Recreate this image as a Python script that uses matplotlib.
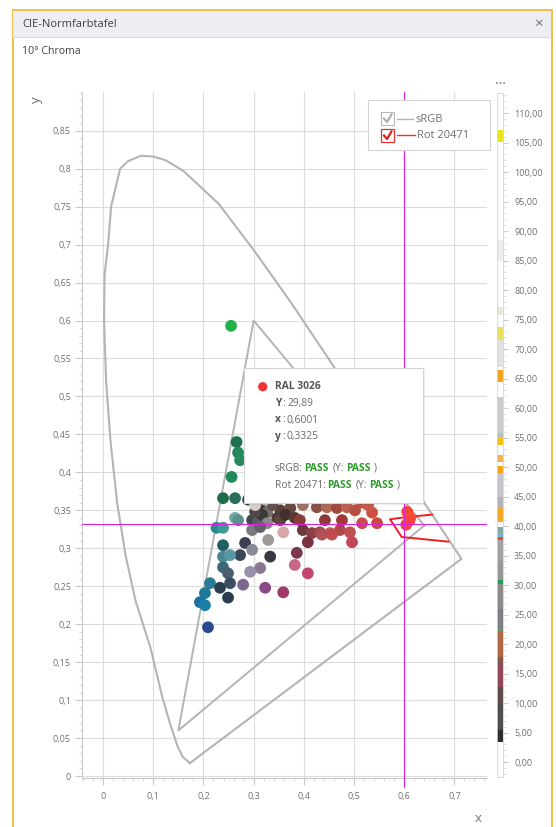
import numpy as np
import matplotlib.pyplot as plt
from matplotlib.patches import Rectangle, Circle
from matplotlib.ticker import FixedLocator, MultipleLocator, FuncFormatter

plt.rcParams['font.family'] = ['Open Sans', 'DejaVu Sans']

# spectral locus (CIE 10 deg)
locus_x = [0.173, 0.159, 0.149, 0.133, 0.118, 0.094, 0.065, 0.045, 0.028, 0.015, 0.006,
           0.002, 0.003, 0.010, 0.016, 0.034, 0.050, 0.075, 0.100, 0.125, 0.160, 0.230,
           0.300, 0.373, 0.444, 0.512, 0.575, 0.627, 0.666, 0.692, 0.714]
locus_y = [0.017, 0.025, 0.038, 0.070, 0.104, 0.170, 0.230, 0.290, 0.360, 0.440, 0.520,
           0.600, 0.660, 0.700, 0.750, 0.800, 0.810, 0.817, 0.816, 0.811, 0.797, 0.754,
           0.693, 0.625, 0.555, 0.487, 0.424, 0.373, 0.334, 0.308, 0.286]

# sRGB gamut
srgb_x = [0.64, 0.30, 0.15]
srgb_y = [0.33, 0.60, 0.06]

# tolerance outline "Rot 20471"
rot_x = [0.6554, 0.6056, 0.5717, 0.5950, 0.6879]
rot_y = [0.3443, 0.3412, 0.3382, 0.3149, 0.3087]

# selected sample RAL 3026
sel_x = 0.6001
sel_y = 0.3325

# samples
pt_x = [0.255, 0.266, 0.269, 0.273, 0.256, 0.239, 0.263, 0.289, 0.313, 0.327, 0.353, 0.373,
        0.398, 0.426, 0.446, 0.466, 0.486, 0.516, 0.536, 0.546, 0.263, 0.269, 0.297, 0.309,
        0.317, 0.327, 0.347, 0.353, 0.226, 0.239, 0.297, 0.313, 0.359, 0.398, 0.416, 0.432,
        0.452, 0.472, 0.492, 0.516, 0.239, 0.283, 0.297, 0.329, 0.408, 0.436, 0.456, 0.496,
        0.273, 0.239, 0.253, 0.333, 0.386, 0.239, 0.249, 0.313, 0.293, 0.382, 0.408, 0.253,
        0.279, 0.323, 0.359, 0.213, 0.233, 0.249, 0.203, 0.193, 0.203, 0.209, 0.606, 0.612,
        0.604, 0.610, 0.303, 0.337, 0.363, 0.382, 0.303, 0.323, 0.392, 0.442, 0.476, 0.502,
        0.528]
pt_y = [0.593, 0.440, 0.426, 0.416, 0.394, 0.366, 0.366, 0.364, 0.353, 0.347, 0.350, 0.353,
        0.357, 0.354, 0.354, 0.353, 0.354, 0.360, 0.347, 0.333, 0.340, 0.337, 0.337, 0.335,
        0.344, 0.333, 0.340, 0.337, 0.327, 0.327, 0.324, 0.328, 0.321, 0.324, 0.320, 0.321,
        0.320, 0.324, 0.321, 0.333, 0.304, 0.307, 0.298, 0.311, 0.308, 0.318, 0.318, 0.308,
        0.291, 0.289, 0.291, 0.289, 0.294, 0.275, 0.267, 0.274, 0.269, 0.278, 0.267, 0.254,
        0.252, 0.248, 0.242, 0.254, 0.248, 0.235, 0.241, 0.229, 0.225, 0.196, 0.348, 0.340,
        0.331, 0.336, 0.348, 0.357, 0.344, 0.340, 0.357, 0.364, 0.337, 0.337, 0.337, 0.350,
        0.357]
pt_col = ['#22b04b', '#1e6f4f', '#21875a', '#2a8a5e', '#1f8a55', '#1f6b4a', '#2b6e5e', '#2c3e3e',
          '#3d3a3a', '#7a6e68', '#5a4038', '#6a4a40', '#a07060', '#8a5048', '#b06a58', '#a04a40',
          '#c06050', '#c05040', '#d05040', '#c84a3e', '#70a8a8', '#5a9090', '#404850', '#5a5a60',
          '#3a3a3a', '#8a8888', '#4a3a38', '#5a4840', '#2a8a8a', '#3a9a9a', '#7a7a80', '#606068',
          '#d8a8a8', '#6a3a3a', '#8a4048', '#a04848', '#c05a58', '#b04848', '#c05050', '#c85048',
          '#206060', '#3a4050', '#8a8a98', '#a09898', '#7a3040', '#b05058', '#c04a50', '#c04858',
          '#3a4858', '#4a8898', '#5a98a8', '#3a3840', '#7a3850', '#3a6878', '#4a6070', '#8a7890',
          '#9a90a8', '#c86888', '#c04870', '#3a5060', '#7a6890', '#8a4a88', '#a03868', '#2a7a98',
          '#2a4050', '#2a3a50', '#207898', '#1a70a0', '#1a80a8', '#2a4a90', '#f04a2a', '#f05030',
          '#e84a3a', '#ff4040', '#504848', '#605050', '#403030', '#5a3a30', '#d8d0c8', '#c0b0a8',
          '#8a3a38', '#903a38', '#a03a38', '#b85040', '#c85848']

# brightness Y strip on the right
band_lo = [105.1, 85.0, 75.8, 71.5, 67.0, 64.4, 55.8, 55.0, 53.7, 50.8, 49.0, 45.0, 43.2, 40.7,
           38.8, 38.1, 37.6, 34.0, 30.8, 30.2, 26.0, 22.6, 22.2, 17.8, 16.8, 12.7, 10.0, 5.4, 3.4]
band_hi = [107.1, 88.5, 77.2, 73.7, 71.5, 66.4, 61.9, 55.8, 54.9, 52.0, 50.2, 49.0, 45.0, 43.2,
           39.8, 38.8, 38.1, 37.6, 34.0, 30.8, 30.2, 26.0, 22.6, 22.2, 17.8, 16.8, 12.7, 10.0, 5.4]
band_col = ['#e6e61a', '#eeeeee', '#e4eadc', '#e8e060', '#dfe2df', '#f2a41c', '#c9ccc8', '#bdbdbd',
            '#f2c21a', '#f2b450', '#f2a218', '#c4c4cc', '#b4b4b8', '#f2a62a', '#86a8a4', '#78b4d8',
            '#e05030', '#a2a2a2', '#989898', '#20a050', '#8c8c8c', '#808084', '#60a070', '#b06a48',
            '#805a50', '#904858', '#604a4a', '#4e4e4e', '#2e2e2e']

W, H = 556, 827
fig = plt.figure(figsize=(W / 100, H / 100), dpi=100)


def ax_px(l, t, r, b, **kw):
    return fig.add_axes([l / W, 1 - b / H, (r - l) / W, (b - t) / H], **kw)


# window frame
bg = fig.add_axes([0, 0, 1, 1], zorder=0)
bg.set_xlim(0, W)
bg.set_ylim(H, 0)
bg.axis('off')
bg.add_patch(Rectangle((12.5, 10), 539, 830, fc='white', ec='#f3b93f', lw=1.3))
bg.add_patch(Rectangle((13.2, 10.7), 537.6, 26, fc='#eceef1', ec='none'))
bg.plot([13.2, 550.8], [37, 37], color='#d6d8dc', lw=0.8)
bg.text(22, 24.5, 'CIE-Normfarbtafel', fontsize=8, color='#404040', va='center')
bg.text(538, 24.5, '\u00d7', fontsize=11, color='#707070', va='center', ha='center')
bg.text(22, 52, '10\u00b0 Chroma', fontsize=7.6, color='#404040', va='center')
bg.text(500, 81, '...', fontsize=10, color='#707070', va='center', ha='center')
bg.text(36, 100, 'y', fontsize=9.5, color='#707070', va='center', ha='center', rotation=90)
bg.text(478, 818, 'x', fontsize=9.5, color='#707070', va='center', ha='center')

# chart
ax = ax_px(82, 92, 487, 778, zorder=1)
ax.set_xlim(-0.042, 0.765)
ax.set_ylim(-0.0026, 0.901)
ax.patch.set_alpha(0)
for s in ['top', 'right']:
    ax.spines[s].set_visible(False)
for s in ['left', 'bottom']:
    ax.spines[s].set_color('#c8c8c8')
    ax.spines[s].set_linewidth(0.8)

ax.xaxis.set_major_locator(FixedLocator(np.round(np.arange(0, 0.71, 0.1), 2)))
ax.yaxis.set_major_locator(FixedLocator(np.round(np.arange(0, 0.86, 0.05), 2)))
ax.xaxis.set_minor_locator(MultipleLocator(0.02))
ax.yaxis.set_minor_locator(MultipleLocator(0.01))
comma = FuncFormatter(lambda v, p: ('%g' % round(v, 2)).replace('.', ','))
ax.xaxis.set_major_formatter(comma)
ax.yaxis.set_major_formatter(comma)
ax.tick_params(which='major', length=5, width=0.8, color='#c8c8c8', labelcolor='#707070',
               labelsize=6.5)
ax.tick_params(axis='x', which='major', pad=5)
ax.tick_params(axis='y', which='major', pad=3)
ax.tick_params(which='minor', length=2.5, width=0.6, color='#d0d0d0')
ax.grid(True, which='major', color='#dcdcdc', lw=0.8)
ax.set_axisbelow(True)

ax.plot(locus_x + [locus_x[0]], locus_y + [locus_y[0]], color='#b4b4b4', lw=1.5,
        solid_joinstyle='round', zorder=2)
ax.plot(srgb_x + [srgb_x[0]], srgb_y + [srgb_y[0]], color='#b4b4b4', lw=1.4, zorder=2)
ax.plot(rot_x, rot_y, color='#ee2020', lw=1.4, zorder=2.5)
ax.scatter(pt_x, pt_y, s=72, c=pt_col, edgecolors='none', zorder=3)
ax.axvline(sel_x, ymin=-0.013, ymax=1, color='#e020e0', lw=0.8, zorder=4, clip_on=False)
ax.axhline(sel_y, color='#e020e0', lw=0.8, zorder=4)

# Y strip
cax = ax_px(497, 93, 503, 777, zorder=1)
cax.set_xlim(0, 1)
cax.set_ylim(-2.54, 113.39)
cax.barh([(a + b) / 2 for a, b in zip(band_lo, band_hi)],
         1, height=[b - a for a, b in zip(band_lo, band_hi)], color=band_col, lw=0)
cax.set_xticks([])
cax.yaxis.tick_right()
cax.yaxis.set_major_locator(FixedLocator(np.arange(0, 111, 5)))
cax.yaxis.set_minor_locator(MultipleLocator(1))
cax.yaxis.set_major_formatter(FuncFormatter(lambda v, p: ('%.2f' % v).replace('.', ',')))
cax.tick_params(which='major', length=3.5, width=0.7, color='#c8c8c8', labelcolor='#707070',
                labelsize=6.5, pad=4.5)
cax.tick_params(which='minor', length=2, width=0.5, color='#d4d4d4')
for s in cax.spines.values():
    s.set_color('#d4d4d4')
    s.set_linewidth(0.6)

# legend and tooltip
ov = fig.add_axes([0, 0, 1, 1], zorder=10)
ov.set_xlim(0, W)
ov.set_ylim(H, 0)
ov.axis('off')
ov.patch.set_alpha(0)

ov.add_patch(Rectangle((368, 100), 122, 50, fc='white', ec='#d4d4d4', lw=0.8))
ov.add_patch(Rectangle((381, 112), 13, 13, fc='white', ec='#b8b8b8', lw=0.8))
ov.plot([384, 387, 391.5], [118.5, 122, 114.5], color='#b0b0b0', lw=1.6)
ov.plot([397, 413], [119, 119], color='#b4b4b4', lw=1)
ov.text(415, 119, 'sRGB', fontsize=8, color='#707070', va='center')
ov.add_patch(Rectangle((381, 129), 13, 13, fc='white', ec='#e83030', lw=0.9))
ov.plot([384, 387, 391.5], [135.5, 139, 131.5], color='#e02020', lw=1.6)
ov.plot([397, 415], [135, 135], color='#ee3030', lw=1)
ov.text(417, 135, 'Rot 20471', fontsize=8, color='#707070', va='center')

ov.add_patch(Rectangle((246, 370), 179, 135, fc='#000000', ec='none', alpha=0.06))
ov.add_patch(Rectangle((244, 368), 179, 135, fc='white', ec='#d4d4d4', lw=0.8))
ov.add_patch(Circle((262.7, 386.7), 4.6, fc='#f03434', ec='none'))
tc = '#6a6a6a'
gc = '#2e9a2a'
fs = 7.4
rend = fig.canvas.get_renderer()
inv = ov.transData.inverted()


def chain(x, y, parts):
    # parts: (text, bold, colour, gap before in px)
    for s, b, c, gap in parts:
        x += gap
        t = ov.text(x, y, s, fontsize=fs, color=c, weight='bold' if b else 'normal',
                    va='center')
        bb = t.get_window_extent(rend)
        x = inv.transform((bb.x1, bb.y0))[0]


chain(275, 386.7, [('RAL 3026', 1, '#555555', 0)])
chain(275, 403.3, [('Y', 1, '#555555', 0), (':', 0, tc, 1), ('29,89', 0, tc, 2)])
chain(275, 420, [('x', 1, '#555555', 0), (':', 0, tc, 1), ('0,6001', 0, tc, 2)])
chain(275, 436.5, [('y', 1, '#555555', 0), (':', 0, tc, 1), ('0,3325', 0, tc, 2)])
chain(275, 468.5, [('sRGB:', 0, tc, 0), ('PASS', 1, gc, 1), ('(Y:', 0, tc, 4),
                   ('PASS', 1, gc, 2), (')', 0, tc, 3)])
chain(275, 485, [('Rot 20471:', 0, tc, 0), ('PASS', 1, gc, 1), ('(Y:', 0, tc, 4),
                 ('PASS', 1, gc, 2), (')', 0, tc, 3)])

fig.savefig('out.png', dpi=100)
